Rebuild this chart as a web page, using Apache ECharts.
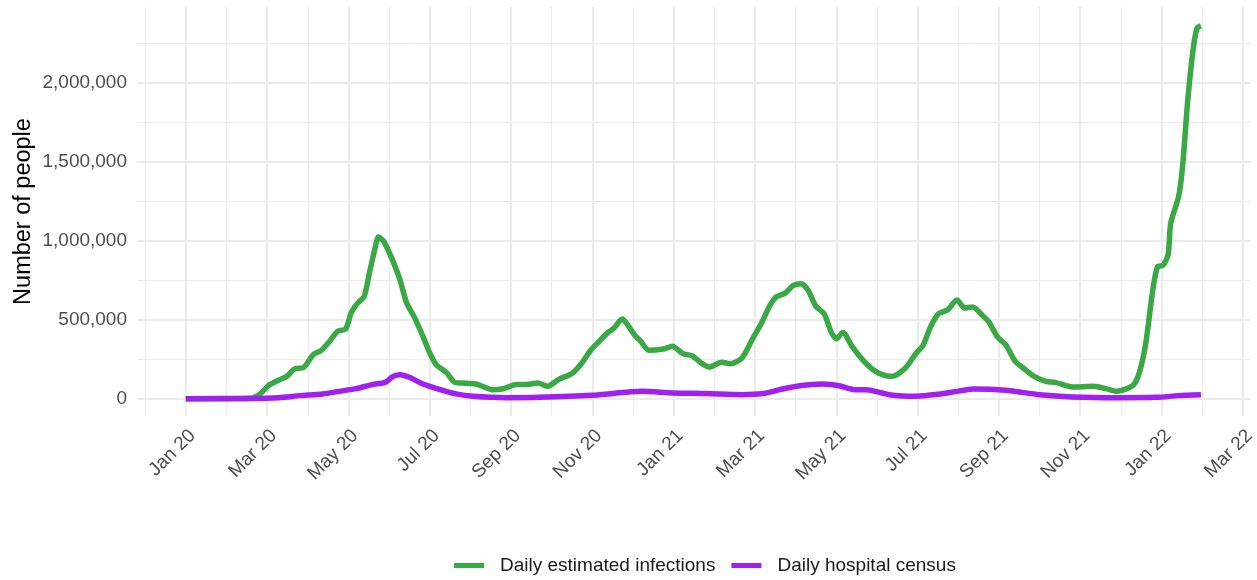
<!DOCTYPE html>
<html>
<head>
<meta charset="utf-8">
<script src="https://cdn.jsdelivr.net/npm/echarts@6/dist/echarts.min.js"></script>
<style>
html,body{margin:0;padding:0;background:#fff;}
#chart{width:1257px;height:580px;}
</style>
</head>
<body>
<div id="chart"></div>
<script>
// ---- Data ----
const infectionDates = [
  "2020-01-01","2020-01-16","2020-02-01","2020-02-18","2020-02-25","2020-03-02","2020-03-08","2020-03-16",
  "2020-03-22","2020-03-29","2020-04-05","2020-04-11","2020-04-17","2020-04-23","2020-04-29","2020-05-03",
  "2020-05-08","2020-05-13","2020-05-17","2020-05-21","2020-05-24","2020-05-28","2020-06-04","2020-06-09",
  "2020-06-14","2020-06-20","2020-06-26","2020-07-01","2020-07-06","2020-07-14","2020-07-20","2020-07-25",
  "2020-08-05","2020-08-12","2020-08-17","2020-08-26","2020-09-05","2020-09-12","2020-09-21","2020-09-28",
  "2020-10-06","2020-10-17","2020-10-24","2020-10-31","2020-11-06","2020-11-12","2020-11-17","2020-11-23",
  "2020-11-27","2020-12-02","2020-12-07","2020-12-13","2020-12-24","2020-12-31","2021-01-08","2021-01-15",
  "2021-01-22","2021-01-28","2021-02-06","2021-02-12","2021-02-20","2021-02-27","2021-03-06","2021-03-12",
  "2021-03-17","2021-03-24","2021-03-30","2021-04-05","2021-04-10","2021-04-16","2021-04-22","2021-04-27",
  "2021-05-01","2021-05-06","2021-05-13","2021-05-21","2021-05-29","2021-06-05","2021-06-12","2021-06-22",
  "2021-06-30","2021-07-05","2021-07-11","2021-07-17","2021-07-24","2021-07-31","2021-08-06","2021-08-12",
  "2021-08-19","2021-08-24","2021-08-31","2021-09-06","2021-09-13","2021-09-19","2021-09-27","2021-10-06",
  "2021-10-13","2021-10-26","2021-11-11","2021-11-20","2021-11-28","2021-12-10","2021-12-15","2021-12-20",
  "2021-12-25","2021-12-29","2022-01-02","2022-01-06","2022-01-08","2022-01-14","2022-01-17","2022-01-21",
  "2022-01-25","2022-01-28","2022-01-31"
];
const infectionValues = [
  0,0,0,2000,30000,82000,110000,141000,
  188000,198000,278000,306000,362000,426000,441000,542000,
  605000,647000,795000,942000,1023000,995000,868000,753000,
  605000,510000,394000,289000,215000,163000,103000,99000,
  93000,72000,57000,63000,89000,89000,99000,78000,
  120000,163000,226000,310000,362000,415000,447000,504000,
  468000,405000,362000,306000,314000,331000,285000,272000,
  226000,200000,230000,221000,257000,373000,479000,584000,
  643000,668000,715000,727000,689000,584000,538000,426000,
  378000,419000,331000,247000,183000,152000,141000,194000,
  289000,335000,457000,537000,563000,624000,574000,580000,
  531000,489000,390000,342000,236000,194000,141000,109000,
  103000,74000,78000,63000,46000,82000,163000,352000,
  669000,837000,843000,911000,1111000,1280000,1469000,1891000,
  2207000,2345000,2360000
];
const censusDates = [
  "2020-01-01","2020-02-18","2020-03-10","2020-03-26","2020-04-12","2020-04-24","2020-05-07","2020-05-19",
  "2020-05-29","2020-06-04","2020-06-09","2020-06-16","2020-06-26","2020-07-09","2020-07-21","2020-08-03",
  "2020-08-29","2020-09-22","2020-11-01","2020-12-08","2020-12-31","2021-01-26","2021-02-20","2021-03-07",
  "2021-03-20","2021-04-04","2021-04-21","2021-05-03","2021-05-15","2021-05-24","2021-06-10","2021-06-30",
  "2021-07-17","2021-07-31","2021-08-12","2021-09-06","2021-10-01","2021-10-26","2021-11-28","2021-12-28",
  "2022-01-14","2022-01-31"
];
const censusValues = [
  0,1000,6000,19000,30000,46000,63000,89000,
  103000,141000,152000,135000,93000,57000,30000,15000,
  6000,8000,21000,46000,36000,32000,25000,32000,
  57000,82000,93000,82000,57000,57000,25000,15000,
  28000,46000,61000,53000,25000,11000,6000,8000,
  19000,25000
];
const tickMonths = [0,2,4,6,8,10,12,14,16,18,20,22,24,26];
const minorMonths = [-1,1,3,5,7,9,11,13,15,17,19,21,23,25];
const monthNames = ["Jan","Feb","Mar","Apr","May","Jun","Jul","Aug","Sep","Oct","Nov","Dec"];
const yTicks = [0,500000,1000000,1500000,2000000];
const yMinorTicks = [250000,750000,1250000,1750000,2250000];
const seriesNames = ["Daily estimated infections","Daily hospital census"];

// date -> fractional month index since Jan 2020
function monthIndex(s){
  const [y,m,d] = s.split("-").map(Number);
  const dim = new Date(Date.UTC(y, m, 0)).getUTCDate();
  return (y-2020)*12 + (m-1) + (d-1)/dim;
}
function pairs(dates, vals){ return dates.map((d,i)=>[monthIndex(d), vals[i]]); }
function monthLabel(v){
  if (Math.abs(v-Math.round(v))>1e-6) return "";
  const r = Math.round(v);
  const yr = 20 + Math.floor(r/12);
  return monthNames[((r%12)+12)%12] + " " + yr;
}

const FONT = "Liberation Sans, Arial, Helvetica, sans-serif";
const XMIN = -1.2, XMAX = 26.2, YMIN = -110000, YMAX = 2480000;

const chart = echarts.init(document.getElementById("chart"), null, {renderer:"canvas"});
chart.setOption({
  animation:false,
  backgroundColor:"#ffffff",
  textStyle:{fontFamily:FONT},
  grid:{left:137,right:6,top:7,bottom:164,containLabel:false,outerBoundsMode:"none"},
  legend:{
    data:seriesNames,
    left:454, top:556, padding:0,
    icon:"rect", itemWidth:30, itemHeight:5, itemGap:16,
    textStyle:{fontFamily:FONT,fontSize:19,color:"#1a1a1a",padding:[0,0,0,11]}
  },
  xAxis:[
    {type:"value",min:XMIN,max:XMAX,position:"bottom",
     axisLine:{show:false},
     axisTick:{show:false,customValues:tickMonths},
     axisLabel:{customValues:tickMonths,formatter:monthLabel,rotate:45,margin:10,
                align:"right",verticalAlign:"top",
                fontFamily:FONT,fontSize:19,color:"#4d4d4d"},
     splitLine:{show:true,lineStyle:{color:"#ebebeb",width:2}}},
    {type:"value",min:XMIN,max:XMAX,position:"bottom",
     axisLine:{show:false},
     axisTick:{show:false,customValues:minorMonths},
     axisLabel:{show:false},
     splitLine:{show:true,lineStyle:{color:"#ebebeb",width:1}}}
  ],
  yAxis:[
    {type:"value",min:YMIN,max:YMAX,position:"left",
     name:"Number of people",nameLocation:"middle",nameGap:101,nameRotate:90,
     nameMoveOverlap:false,
     nameTextStyle:{fontFamily:FONT,fontSize:23.5,color:"#000"},
     axisLine:{show:false},
     axisTick:{show:false,customValues:yTicks},
     axisLabel:{customValues:yTicks,margin:10,fontFamily:FONT,fontSize:19,color:"#4d4d4d",
                formatter:v=>Number(v).toLocaleString("en-US")},
     splitLine:{show:true,lineStyle:{color:"#ebebeb",width:2}}},
    {type:"value",min:YMIN,max:YMAX,position:"left",
     axisLine:{show:false},
     axisTick:{show:false,customValues:yMinorTicks},
     axisLabel:{show:false},
     splitLine:{show:true,lineStyle:{color:"#ebebeb",width:1}}}
  ],
  series:[
    {name:seriesNames[0],type:"line",xAxisIndex:0,yAxisIndex:0,
     data:pairs(infectionDates,infectionValues),
     showSymbol:false,smooth:0.25,
     lineStyle:{color:"#39a845",width:5.5,cap:"butt",join:"round"},
     itemStyle:{color:"#39a845"}},
    {name:seriesNames[1],type:"line",xAxisIndex:0,yAxisIndex:0,
     data:pairs(censusDates,censusValues),
     showSymbol:false,smooth:0.25,
     lineStyle:{color:"#a020f0",width:5.5,cap:"butt",join:"round"},
     itemStyle:{color:"#a020f0"}}
  ]
});
</script>
</body>
</html>
